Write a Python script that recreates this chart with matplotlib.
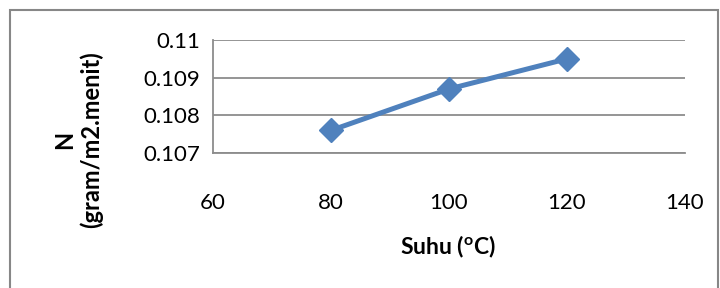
import matplotlib.pyplot as plt
from matplotlib.patches import Rectangle

# data
suhu = [80, 100, 120]
n_val = [0.1076, 0.1087, 0.1095]
x_ticks = [60, 80, 100, 120, 140]
y_ticks = [0.107, 0.108, 0.109, 0.11]
y_tick_labels = ['0.107', '0.108', '0.109', '0.11']

plt.rcParams['font.family'] = ['Lato', 'DejaVu Sans']
plt.rcParams['mathtext.fontset'] = 'custom'
plt.rcParams['mathtext.rm'] = 'Lato'
plt.rcParams['mathtext.bf'] = 'Lato:bold'

W, H = 720, 288
fig = plt.figure(figsize=(7.2, 2.88), dpi=100)

# outer chart border (cropped at right/bottom)
fig.patches.append(Rectangle((10 / W, -0.1), 708 / W, (H - 10) / H + 0.1,
                             transform=fig.transFigure, fill=False,
                             edgecolor='#878787', linewidth=1.5))

ax = fig.add_axes([213 / W, 1 - 153 / H, (685 - 213) / W, (153 - 40) / H])
ax.plot(suhu, n_val, color='#4F81BD', linewidth=3.6, marker='D',
        markersize=12, markeredgecolor='#4F81BD', clip_on=False, zorder=3)

ax.set_xlim(60, 140)
ax.set_ylim(0.107, 0.11)
ax.set_xticks(x_ticks)
ax.set_yticks(y_ticks)
ax.set_yticklabels(y_tick_labels)
ax.grid(axis='y', color='#8c8c8c', linewidth=1.3)
ax.tick_params(axis='both', length=0, labelsize=16, colors='black')
ax.tick_params(axis='x', pad=29)
ax.tick_params(axis='y', pad=9)
for s in ['top', 'right']:
    ax.spines[s].set_visible(False)
for s in ['left', 'bottom']:
    ax.spines[s].set_color('#8c8c8c')
    ax.spines[s].set_linewidth(1.3)

fig.text(448 / W, 1 - 247 / H, r'Suhu ($\mathbf{^{o}}$C)', fontsize=16.5,
         fontweight='bold', ha='center', va='center')
fig.text(78 / W, 1 - 140 / H, 'N\n(gram/m2.menit)', fontsize=17,
         fontweight='bold', ha='center', va='center', rotation=90,
         multialignment='center', linespacing=1.15)

fig.savefig('out.png', dpi=100)
